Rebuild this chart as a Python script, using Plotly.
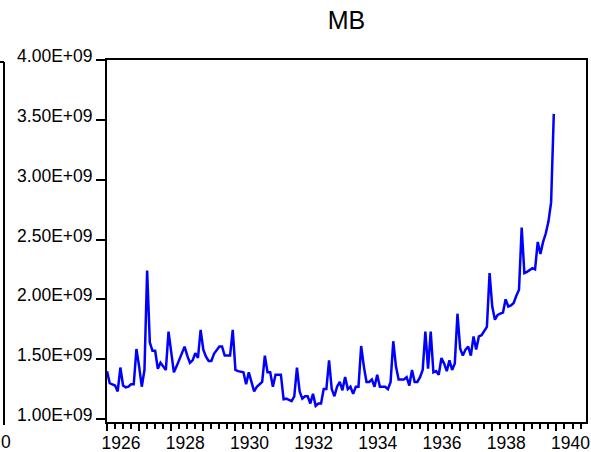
import plotly.graph_objects as go

# Monthly MB values (in units of 1e9), 1926M01 - 1939M12
mb_1926 = [1.40, 1.30, 1.29, 1.28, 1.23, 1.43, 1.28, 1.265, 1.27, 1.29, 1.29, 1.585]
mb_1927 = [1.44, 1.27, 1.41, 2.24, 1.64, 1.57, 1.57, 1.42, 1.47, 1.44, 1.41, 1.73]
mb_1928 = [1.55, 1.39, 1.44, 1.49, 1.55, 1.605, 1.53, 1.47, 1.49, 1.55, 1.51, 1.745]
mb_1929 = [1.58, 1.52, 1.485, 1.485, 1.545, 1.58, 1.605, 1.605, 1.53, 1.53, 1.53, 1.745]
mb_1930 = [1.41, 1.40, 1.395, 1.39, 1.29, 1.39, 1.31, 1.23, 1.27, 1.29, 1.31, 1.53]
mb_1931 = [1.39, 1.39, 1.27, 1.37, 1.37, 1.37, 1.165, 1.17, 1.16, 1.15, 1.19, 1.43]
mb_1932 = [1.23, 1.17, 1.19, 1.19, 1.13, 1.21, 1.11, 1.13, 1.13, 1.25, 1.25, 1.49]
mb_1933 = [1.25, 1.19, 1.27, 1.31, 1.24, 1.35, 1.25, 1.27, 1.21, 1.27, 1.27, 1.61]
mb_1934 = [1.44, 1.31, 1.31, 1.33, 1.27, 1.37, 1.27, 1.27, 1.27, 1.25, 1.31, 1.65]
mb_1935 = [1.44, 1.33, 1.33, 1.33, 1.35, 1.28, 1.41, 1.31, 1.31, 1.35, 1.41, 1.73]
mb_1936 = [1.42, 1.73, 1.39, 1.40, 1.37, 1.51, 1.465, 1.40, 1.49, 1.41, 1.465, 1.88]
mb_1937 = [1.59, 1.53, 1.58, 1.605, 1.53, 1.69, 1.58, 1.69, 1.70, 1.74, 1.77, 2.22]
mb_1938 = [1.94, 1.83, 1.87, 1.88, 1.89, 2.00, 1.94, 1.95, 1.97, 2.03, 2.08, 2.60]
mb_1939 = [2.22, 2.23, 2.245, 2.26, 2.25, 2.48, 2.38, 2.48, 2.55, 2.65, 2.81, 3.55]

start_year = 1926
mb_units = (mb_1926 + mb_1927 + mb_1928 + mb_1929 + mb_1930 + mb_1931 + mb_1932
            + mb_1933 + mb_1934 + mb_1935 + mb_1936 + mb_1937 + mb_1938 + mb_1939)
mb = [v * 1e9 for v in mb_units]
t = [start_year + i / 12 for i in range(len(mb))]

year_ticks = list(range(1926, 1941))
year_labels = [str(y) if y % 2 == 0 else "" for y in year_ticks]
y_tickvals = [1.0e9, 1.5e9, 2.0e9, 2.5e9, 3.0e9, 3.5e9, 4.0e9]
y_ticktext = ["1.00E+09", "1.50E+09", "2.00E+09", "2.50E+09", "3.00E+09", "3.50E+09", "4.00E+09"]

FONT = "Arial, Liberation Sans, sans-serif"
FS = 17.5

fig = go.Figure()
fig.add_trace(go.Scatter(x=t, y=mb, mode="lines",
                         line=dict(color="#0000FF", width=2.5),
                         hoverinfo="skip", showlegend=False))

W, H = 591, 452
L, R, T, B = 107, 5, 60, 30
pw, ph = W - L - R, H - T - B

def px(xp):
    return (xp - L) / pw

def py(yp):
    return (H - B - yp) / ph

fig.update_layout(
    width=W, height=H,
    margin=dict(l=L, r=R, t=T, b=B, pad=0, autoexpand=False),
    paper_bgcolor="white", plot_bgcolor="white",
    font=dict(family=FONT, size=FS, color="black"),
    title=dict(text="MB", x=0.5, xanchor="center", xref="paper",
               y=1 - 20 / H, yanchor="middle", yref="container",
               font=dict(family=FONT, size=25, color="black")),
    xaxis=dict(range=[1926, 1940.92], tickmode="array", tickvals=year_ticks,
               ticktext=year_labels, ticks="outside", ticklen=7, tickwidth=2,
               tickcolor="black", showline=True, linecolor="black", linewidth=2,
               mirror=True, showgrid=False, zeroline=False, automargin=False,
               ticklabelshift=14, ticklabelstandoff=-3, ticklabeloverflow="allow",
               minor=dict(dtick=0.25, tick0=1926, ticks="outside", ticklen=5,
                          tickwidth=1.5, tickcolor="black", showgrid=False),
               tickfont=dict(family=FONT, size=FS, color="black")),
    yaxis=dict(range=[0.975e9, 4.0e9], tickmode="array", tickvals=y_tickvals,
               ticktext=y_ticktext, ticks="outside", ticklen=9, tickwidth=2,
               tickcolor="black", showline=True, linecolor="black", linewidth=2,
               mirror=True, showgrid=False, zeroline=False, automargin=False,
               ticklabelshift=-4, ticklabeloverflow="allow",
               tickfont=dict(family=FONT, size=FS, color="black")),
    shapes=[
        dict(type="line", xref="paper", yref="paper", x0=px(4), x1=px(4),
             y0=py(425), y1=py(62), line=dict(color="black", width=2)),
        dict(type="line", xref="paper", yref="paper", x0=px(-2), x1=px(4),
             y0=py(62), y1=py(62), line=dict(color="black", width=2)),
    ],
    annotations=[
        dict(text="0", xref="paper", yref="paper", x=px(-1), y=py(442),
             xanchor="left", yanchor="middle", showarrow=False,
             font=dict(family=FONT, size=FS, color="black")),
    ],
)

fig.write_html("out.html")
